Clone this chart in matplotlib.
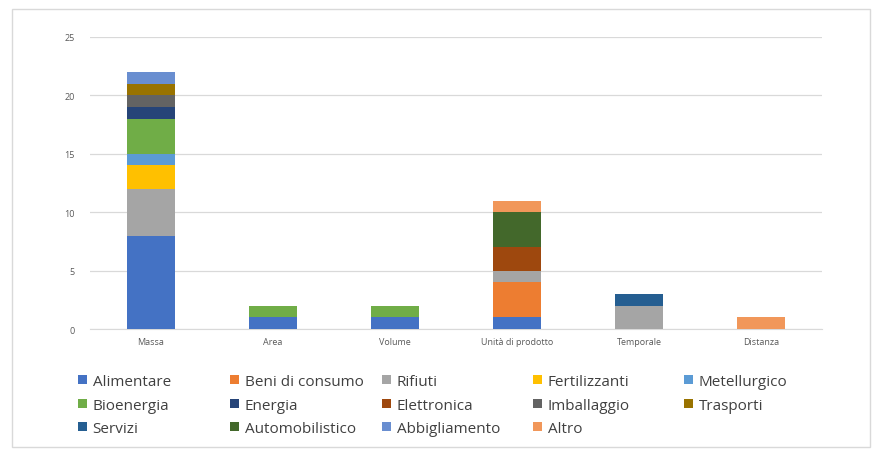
import numpy as np
import matplotlib.pyplot as plt
from matplotlib.patches import Rectangle

categories = ["Massa", "Area", "Volume", "Unità di prodotto", "Temporale", "Distanza"]

sectors = ["Alimentare", "Beni di consumo", "Rifiuti", "Fertilizzanti", "Metellurgico",
           "Bioenergia", "Energia", "Elettronica", "Imballaggio", "Trasporti",
           "Servizi", "Automobilistico", "Abbigliamento", "Altro"]

# counts per sector, one value per category
alimentare      = [8, 1, 1, 1, 0, 0]
beni_di_consumo = [0, 0, 0, 3, 0, 0]
rifiuti         = [4, 0, 0, 1, 2, 0]
fertilizzanti   = [2, 0, 0, 0, 0, 0]
metellurgico    = [1, 0, 0, 0, 0, 0]
bioenergia      = [3, 1, 1, 0, 0, 0]
energia         = [1, 0, 0, 0, 0, 0]
elettronica     = [0, 0, 0, 2, 0, 0]
imballaggio     = [1, 0, 0, 0, 0, 0]
trasporti       = [1, 0, 0, 0, 0, 0]
servizi         = [0, 0, 0, 0, 1, 0]
automobilistico = [0, 0, 0, 3, 0, 0]
abbigliamento   = [1, 0, 0, 0, 0, 0]
altro           = [0, 0, 0, 1, 0, 1]

series = [alimentare, beni_di_consumo, rifiuti, fertilizzanti, metellurgico,
          bioenergia, energia, elettronica, imballaggio, trasporti,
          servizi, automobilistico, abbigliamento, altro]

colors = ["#4472C4", "#ED7D31", "#A5A5A5", "#FFC000", "#5B9BD5",
          "#70AD47", "#264478", "#9E480E", "#636363", "#997300",
          "#255E91", "#43682B", "#698ED0", "#F1975A"]

fig = plt.figure(figsize=(8.72, 4.52), dpi=100)
plt.rcParams['font.family'] = ['Open Sans', 'DejaVu Sans']

# light frame around the whole chart
fig.patches.append(Rectangle((12 / 872, 4 / 452), 858 / 872, 438 / 452,
                             transform=fig.transFigure, fill=False,
                             edgecolor="#d9d9d9", linewidth=1))

ax = fig.add_axes([90 / 872, 122 / 452, 732 / 872, 292 / 452])

x = np.arange(len(categories))
bottom = np.zeros(len(categories))
handles = []
for name, vals, col in zip(sectors, series, colors):
    h = ax.bar(x, vals, width=0.4, bottom=bottom, color=col, label=name, zorder=3)
    handles.append(h)
    bottom += np.array(vals)

ax.set_xlim(-0.5, len(categories) - 0.5)
ax.set_ylim(0, 25)
ax.set_yticks(range(0, 26, 5))
ax.set_xticks(x)
ax.set_xticklabels(categories)
ax.tick_params(axis="both", length=0, labelsize=6.5, labelcolor="#595959")
ax.tick_params(axis="y", pad=11)
ax.tick_params(axis="x", pad=6)
ax.yaxis.grid(True, color="#d9d9d9", linewidth=0.9, zorder=0)
for s in ax.spines.values():
    s.set_visible(False)
ax.spines["bottom"].set_visible(True)
ax.spines["bottom"].set_color("#d9d9d9")

# legend laid out row by row, five fixed-width columns
ncols = 5
col_x = [72, 224, 376, 527, 678]
for c in range(ncols):
    idx = list(range(c, len(sectors), ncols))
    leg = fig.legend([handles[i] for i in idx], [sectors[i] for i in idx],
                     loc="upper left", bbox_to_anchor=(col_x[c] / 872, 1 - 369 / 452),
                     frameon=False, fontsize=11, handlelength=0.55, handleheight=0.55,
                     handletextpad=0.4, labelspacing=0.55, borderaxespad=0,
                     labelcolor="#404040")

fig.savefig("out.png", dpi=100)
